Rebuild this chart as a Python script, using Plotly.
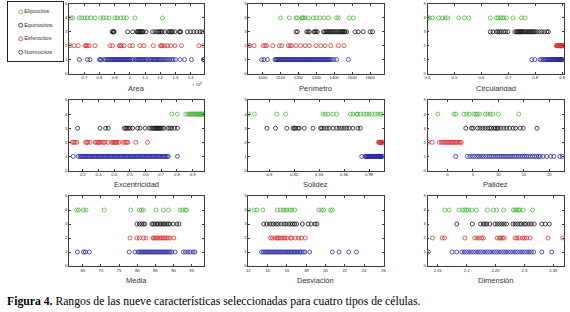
import plotly.graph_objects as go

W, H = 570, 312

types = ["Eliptocitos", "Equinocitos", "Esferocitos", "Normocitos"]
type_levels = [4, 3, 2, 1]
type_colors = ["#55b548", "#1a1a1a", "#d93636", "#2a2aa0"]

features = ["Area", "Perímetro", "Circularidad", "Excentricidad", "Solidez",
            "Palidez", "Media", "Desviación", "Dimensión"]

# ---- Area (x10^4) ----
area_eli = [0.61, 0.623, 0.667, 0.682, 0.704, 0.72, 0.742, 0.77, 0.807, 0.825, 0.843, 0.864,
            0.902, 0.917, 0.939, 0.961, 0.978, 1.033, 1.215]
area_equ = [0.884, 0.888, 0.892, 0.897, 0.985, 1.018, 1.044, 1.05, 1.055, 1.06, 1.066, 1.072,
            1.077, 1.083, 1.088, 1.106, 1.15, 1.165, 1.18, 1.19, 1.198, 1.205, 1.213, 1.23,
            1.253, 1.26, 1.268, 1.275, 1.281, 1.296, 1.326, 1.33, 1.334, 1.378, 1.4, 1.42,
            1.44, 1.46, 1.475]
area_esf = [0.606, 0.632, 0.66, 0.704, 0.712, 0.72, 0.733, 0.77, 0.869, 0.886, 0.93, 0.938,
            0.945, 0.961, 1.0, 1.018, 1.066, 1.092, 1.154, 1.202, 1.208, 1.215, 1.23, 1.248,
            1.268, 1.296, 1.34, 1.454, 1.485]
area_nor = [0.667, 0.72, 0.737, 0.8, 0.806, 0.812, 0.83, 0.84, 0.85, 0.858, 0.865, 0.872, 0.88,
            0.887, 0.894, 0.9, 0.907, 0.914, 0.92, 0.927, 0.934, 0.94, 0.947, 0.954, 0.96,
            0.967, 0.974, 0.98, 0.987, 0.994, 1.0, 1.01, 1.02, 1.035, 1.042, 1.05, 1.057,
            1.064, 1.07, 1.078, 1.085, 1.092, 1.1, 1.108, 1.116, 1.13, 1.138, 1.146, 1.154,
            1.162, 1.17, 1.178, 1.186, 1.194, 1.202, 1.21, 1.22, 1.23, 1.24, 1.25, 1.262,
            1.275, 1.285, 1.3, 1.33, 1.36, 1.405, 1.484, 1.487]
area_ticks = [0.7, 0.8, 0.9, 1.0, 1.1, 1.2, 1.3, 1.4]

# ---- Perímetro ----
per_eli = [1100, 1149, 1186, 1194, 1218, 1222, 1227, 1237, 1255, 1283, 1298, 1320, 1343, 1367,
           1413, 1423, 1484, 1507]
per_equ = [1186, 1194, 1246, 1254, 1261, 1287, 1292, 1298, 1305, 1339, 1347, 1354, 1361, 1367,
           1372, 1378, 1385, 1391, 1398, 1405, 1413, 1420, 1428, 1434, 1441, 1446, 1451, 1456,
           1460, 1469, 1516, 1534, 1562, 1600, 1614]
per_esf = [920, 929, 952, 1004, 1013, 1022, 1056, 1093, 1106, 1143, 1153, 1162, 1186, 1212,
           1237, 1261, 1298, 1324, 1348, 1380, 1423, 1454]
per_nor = [994, 1007, 1026, 1069, 1074, 1079, 1083, 1089, 1095, 1099, 1104, 1111, 1116, 1120,
           1127, 1133, 1138, 1142, 1149, 1155, 1160, 1166, 1171, 1177, 1182, 1188, 1194, 1199,
           1205, 1211, 1216, 1222, 1228, 1233, 1239, 1244, 1250, 1256, 1261, 1267, 1272, 1278,
           1284, 1290, 1295, 1301, 1307, 1312, 1318, 1323, 1329, 1335, 1341, 1346, 1352, 1358,
           1364, 1370, 1376, 1385, 1398, 1413, 1479]
per_ticks = [1000, 1100, 1200, 1300, 1400, 1500, 1600]

# ---- Circularidad ----
cir_eli = [0.401, 0.406, 0.419, 0.441, 0.456, 0.466, 0.475, 0.516, 0.537, 0.553, 0.633, 0.656,
           0.662, 0.671, 0.678, 0.684, 0.693, 0.718, 0.749, 0.762]
cir_equ = [0.633, 0.643, 0.656, 0.662, 0.668, 0.674, 0.683, 0.69, 0.699, 0.724, 0.73, 0.734,
           0.737, 0.74, 0.743, 0.746, 0.749, 0.752, 0.755, 0.76, 0.765, 0.77, 0.774, 0.778,
           0.782, 0.786, 0.79, 0.794, 0.799, 0.805, 0.815, 0.824, 0.833, 0.843, 0.849]
cir_esf = [0.878, 0.88, 0.882, 0.884, 0.885, 0.887, 0.888, 0.89, 0.891, 0.893, 0.894, 0.895,
           0.896, 0.897, 0.898, 0.899, 0.9, 0.901, 0.902, 0.903, 0.904]
cir_nor = [0.787, 0.799, 0.818, 0.824, 0.83, 0.835, 0.84, 0.845, 0.848, 0.852, 0.855, 0.858,
           0.861, 0.864, 0.867, 0.87, 0.873, 0.876, 0.878, 0.88, 0.883, 0.885, 0.887, 0.889,
           0.891, 0.893, 0.895, 0.897, 0.899, 0.9, 0.902, 0.904]
cir_ticks = [0.4, 0.5, 0.6, 0.7, 0.8, 0.9]

# ---- Excentricidad ----
exc_eli = [0.767, 0.803, 0.856, 0.869, 0.877, 0.884, 0.89, 0.894, 0.9, 0.906, 0.915, 0.921,
           0.926, 0.932, 0.937, 0.942, 0.947, 0.952, 0.957, 0.962, 0.966, 0.97]
exc_equ = [0.168, 0.31, 0.346, 0.363, 0.465, 0.474, 0.482, 0.491, 0.501, 0.518, 0.55, 0.565,
           0.597, 0.624, 0.635, 0.646, 0.652, 0.66, 0.666, 0.671, 0.677, 0.682, 0.687, 0.692,
           0.698, 0.707, 0.718, 0.745, 0.756, 0.767, 0.784, 0.803]
exc_esf = [0.134, 0.143, 0.151, 0.162, 0.219, 0.226, 0.232, 0.247, 0.279, 0.288, 0.296, 0.303,
           0.31, 0.325, 0.334, 0.342, 0.363, 0.385, 0.395, 0.401, 0.406, 0.412, 0.417, 0.431,
           0.459, 0.47, 0.479, 0.487, 0.538, 0.612]
exc_nor = [0.14, 0.172, 0.183, 0.191, 0.198, 0.206, 0.214, 0.221, 0.229, 0.236, 0.244, 0.252,
           0.259, 0.267, 0.275, 0.283, 0.29, 0.298, 0.305, 0.313, 0.321, 0.33, 0.338, 0.346,
           0.353, 0.361, 0.369, 0.377, 0.385, 0.392, 0.4, 0.408, 0.416, 0.423, 0.431, 0.439,
           0.447, 0.455, 0.462, 0.47, 0.478, 0.486, 0.494, 0.502, 0.51, 0.517, 0.525, 0.533,
           0.541, 0.549, 0.557, 0.565, 0.573, 0.58, 0.588, 0.596, 0.604, 0.612, 0.62, 0.628,
           0.636, 0.643, 0.651, 0.659, 0.667, 0.675, 0.683, 0.69, 0.698, 0.706, 0.714, 0.722,
           0.73, 0.738, 0.745, 0.803]
exc_ticks = [0.2, 0.3, 0.4, 0.5, 0.6, 0.7, 0.8, 0.9]

# ---- Solidez ----
sol_eli = [0.8835, 0.888, 0.906, 0.913, 0.943, 0.945, 0.947, 0.951, 0.954, 0.965, 0.967, 0.97,
           0.971, 0.973, 0.976, 0.978, 0.98, 0.982, 0.985, 0.987, 0.989, 0.991]
sol_equ = [0.898, 0.905, 0.914, 0.919, 0.92, 0.921, 0.923, 0.924, 0.928, 0.935, 0.941, 0.942,
           0.944, 0.946, 0.948, 0.951, 0.954, 0.956, 0.958, 0.96, 0.962, 0.964, 0.967, 0.971,
           0.973]
sol_esf = [0.9876, 0.988, 0.9884, 0.9888, 0.9892, 0.9896, 0.99, 0.9904, 0.9908, 0.9912, 0.9915]
sol_nor = [0.9741, 0.9768, 0.9776, 0.9781, 0.9787, 0.9792, 0.9797, 0.9802, 0.9807, 0.9813,
           0.9818, 0.9823, 0.9829, 0.9834, 0.9839, 0.9845, 0.985, 0.9856, 0.9861, 0.9866,
           0.9872, 0.9877, 0.9882, 0.9888, 0.9893, 0.9898, 0.9904, 0.9909, 0.9914]
sol_ticks = [0.9, 0.92, 0.94, 0.96, 0.98]

# ---- Palidez ----
pal_eli = [-1.9, 1.25, 1.6, 3.2, 3.8, 4.3, 5.2, 5.6, 5.9, 6.3, 7.4, 7.9, 8.4, 8.9, 10.0, 14.0]
pal_equ = [3.6, 4.7, 5.0, 5.9, 6.4, 6.9, 7.4, 7.9, 8.3, 8.6, 9.1, 9.4, 9.7, 10.0, 10.5, 11.1,
           11.6, 12.2, 12.9, 13.4, 14.3, 14.9, 17.6]
pal_esf = [-3.8, -3.0, -1.6, -1.2, -0.9, -0.6, -0.3, 0.0, 0.2, 0.5, 0.8, 1.0, 1.3, 1.6, 1.9,
           2.2, 2.5, 2.7]
pal_nor = [1.6, 3.9, 4.4, 4.9, 5.3, 5.8, 6.2, 6.6, 7.0, 7.5, 7.9, 8.3, 8.7, 9.1, 9.5, 9.9,
           10.3, 10.7, 11.1, 11.5, 11.9, 12.3, 12.7, 13.1, 13.5, 13.9, 14.3, 14.7, 15.1, 15.5,
           15.9, 16.3, 16.7, 17.1, 17.5, 17.9, 18.2, 18.8, 19.5, 20.3, 20.9, 22.1, 22.6]
pal_ticks = [0, 5, 10, 15, 20]

# ---- Media ----
med_eli = [63.3, 63.8, 65.2, 65.9, 70.9, 78.2, 80.6, 81.2, 81.7, 85.2, 87.2, 88.6, 91.8, 92.5,
           93.2, 93.6]
med_equ = [79.9, 80.6, 81.2, 81.7, 82.1, 84.0, 84.4, 84.9, 85.4, 85.8, 86.3, 86.7, 87.2, 87.6,
           88.1, 88.6, 89.0, 89.9, 90.9, 91.5]
med_esf = [78.0, 79.9, 80.6, 81.7, 82.4, 84.3, 84.6, 85.0, 85.4, 85.8, 86.3, 86.7, 87.2, 87.6,
           88.1, 88.6, 89.0, 90.1]
med_nor = [63.5, 65.2, 65.7, 66.8, 77.8, 79.4, 80.2, 80.6, 81.0, 81.4, 81.8, 82.2, 82.6, 83.0,
           83.4, 83.8, 84.2, 84.6, 85.0, 85.4, 85.8, 86.2, 86.6, 87.0, 87.4, 87.8, 88.2, 88.6,
           89.0, 89.5, 90.4, 92.7, 93.3, 94.0, 94.6, 95.4, 95.9]
med_ticks = [65, 70, 75, 80, 85, 90, 95]

# ---- Desviación ----
des_eli = [12.05, 12.6, 12.9, 13.5, 15.0, 15.3, 15.6, 15.8, 16.0, 16.3, 16.5, 16.8, 19.3, 19.6,
           19.8, 20.5, 20.7]
des_equ = [13.6, 13.9, 14.2, 14.4, 14.6, 14.9, 15.1, 15.4, 15.7, 15.9, 16.2, 16.4, 16.6, 16.8,
           17.0, 17.6, 18.2, 18.5, 18.9, 19.1]
des_esf = [14.3, 14.5, 14.8, 15.0, 15.1, 15.3, 15.5, 15.7, 15.8, 16.0, 16.4, 16.5, 16.9, 17.2,
           17.5, 17.9]
des_nor = [13.38, 13.55, 13.72, 13.88, 14.03, 14.19, 14.35, 14.5, 14.66, 14.82, 14.97, 15.13,
           15.29, 15.44, 15.6, 15.76, 15.91, 16.07, 16.23, 16.38, 16.54, 16.7, 16.85, 17.01,
           17.17, 17.32, 17.48, 17.68, 17.85, 18.36, 20.7, 21.4, 22.4, 23.2]
des_ticks = [12, 14, 16, 18, 20, 22, 24, 26]

# ---- Dimensión ----
dim_eli = [2.1625, 2.17, 2.187, 2.193, 2.197, 2.2, 2.203, 2.209, 2.217, 2.236, 2.246, 2.252,
           2.264, 2.281, 2.284, 2.287, 2.29, 2.292, 2.298, 2.314]
dim_equ = [2.183, 2.21, 2.224, 2.229, 2.232, 2.235, 2.24, 2.249, 2.253, 2.257, 2.261, 2.265,
           2.269, 2.28, 2.284, 2.288, 2.292, 2.295, 2.3, 2.303, 2.308, 2.312, 2.317, 2.33,
           2.336, 2.343]
dim_esf = [2.141, 2.158, 2.162, 2.197, 2.214, 2.218, 2.222, 2.226, 2.229, 2.253, 2.257, 2.259,
           2.262, 2.265, 2.284, 2.287, 2.291, 2.297, 2.3, 2.304, 2.31, 2.341, 2.366]
dim_nor = [2.134, 2.175, 2.183, 2.192, 2.196, 2.2, 2.204, 2.208, 2.212, 2.216, 2.22, 2.224,
           2.228, 2.232, 2.236, 2.24, 2.244, 2.248, 2.252, 2.256, 2.26, 2.264, 2.268, 2.272,
           2.276, 2.28, 2.284, 2.288, 2.292, 2.296, 2.3, 2.304, 2.308, 2.312, 2.316, 2.33, 2.347]
dim_ticks = [2.15, 2.2, 2.25, 2.3, 2.35]

y_ticks = [0, 1, 2, 3, 4, 5]

feature_data = [
    (area_eli, area_equ, area_esf, area_nor),
    (per_eli, per_equ, per_esf, per_nor),
    (cir_eli, cir_equ, cir_esf, cir_nor),
    (exc_eli, exc_equ, exc_esf, exc_nor),
    (sol_eli, sol_equ, sol_esf, sol_nor),
    (pal_eli, pal_equ, pal_esf, pal_nor),
    (med_eli, med_equ, med_esf, med_nor),
    (des_eli, des_equ, des_esf, des_nor),
    (dim_eli, dim_equ, dim_esf, dim_nor),
]
feature_ticks = [area_ticks, per_ticks, cir_ticks, exc_ticks, sol_ticks, pal_ticks,
                 med_ticks, des_ticks, dim_ticks]

# ---- layout geometry (pixels) ----
x_ranges = [[0.599, 1.488], [919.6, 1675], [0.4, 0.905],
            [0.113, 0.972], [0.8831, 0.9916], [-3.93, 22.8],
            [61.2, 98.4], [12, 26], [2.1325, 2.3675]]
col_px = [(69, 204), (248.3, 383.5), (427.5, 563.5)]
row_px = [(4, 73.5), (100, 170.5), (196, 266)]
title_y_px = [88, 184, 280]

fig = go.Figure()
layout = {}
annotations = []
axis_color = "#3a3a3a"
for i in range(9):
    r, c = divmod(i, 3)
    n = "" if i == 0 else str(i + 1)
    for k in range(4):
        fig.add_trace(go.Scatter(
            x=feature_data[i][k], y=[type_levels[k]] * len(feature_data[i][k]),
            mode="markers", xaxis="x" + n, yaxis="y" + n, showlegend=False,
            marker=dict(symbol="circle-open", size=4, color=type_colors[k],
                        line=dict(width=0.8)),
            hoverinfo="x+name", name=types[k]))
    x0, x1 = col_px[c]
    ytop, ybot = row_px[r]
    common = dict(showline=True, mirror="ticks", linecolor=axis_color, linewidth=0.8,
                  ticks="inside", ticklen=2, tickwidth=0.6, tickcolor=axis_color,
                  showgrid=False, zeroline=False,
                  tickfont=dict(family="Liberation Sans, Arial", size=4.2, color="#222"))
    layout["xaxis" + n] = dict(domain=[x0 / W, x1 / W], anchor="y" + n,
                               range=x_ranges[i], tickmode="array",
                               tickvals=feature_ticks[i], **common)
    layout["yaxis" + n] = dict(domain=[1 - ybot / H, 1 - ytop / H], anchor="x" + n,
                               range=[0, 5], tickmode="array", tickvals=y_ticks, **common)
    annotations.append(dict(text=features[i], xref="paper", yref="paper",
                            x=(x0 + x1) / 2 / W, y=1 - title_y_px[r] / H,
                            xanchor="center", yanchor="middle", showarrow=False,
                            font=dict(family="Liberation Sans, Arial", size=7.5, color="#333")))

# x10^4 multiplier under the Area axis
annotations.append(dict(text="× 10<sup>4</sup>", xref="paper", yref="paper",
                        x=197 / W, y=1 - 84 / H, xanchor="center", yanchor="middle",
                        showarrow=False,
                        font=dict(family="Liberation Sans, Arial", size=4.2, color="#222")))

# caption
annotations.append(dict(
    text="<b>Figura 4.</b> Rangos de las nueve características seleccionadas para cuatro tipos de células.",
    xref="paper", yref="paper", x=5 / W, y=1 - 301 / H, xanchor="left", yanchor="middle",
    showarrow=False, font=dict(family="Liberation Serif, Times New Roman", size=11.7, color="#000")))

# legend box drawn as a small auxiliary axis
legend_slots = [0, 1, 2, 3]
fig.add_trace(go.Scatter(
    x=[0] * 4, y=legend_slots, mode="markers+text", text=types,
    textposition="middle right", xaxis="x10", yaxis="y10", showlegend=False,
    hoverinfo="skip",
    marker=dict(symbol="circle-open", size=4, color=type_colors, line=dict(width=0.8)),
    textfont=dict(family="Liberation Sans, Arial", size=5.5, color="#333")))
layout["xaxis10"] = dict(domain=[8 / W, 63 / W], anchor="y10", range=[-12.7, 42.3],
                         showline=True, mirror=True, linecolor="#222", linewidth=1,
                         showticklabels=False, ticks="", showgrid=False, zeroline=False,
                         fixedrange=True)
layout["yaxis10"] = dict(domain=[1 - 61 / H, 1 - 2 / H], anchor="x10", range=[3.64, -0.72],
                         showline=True, mirror=True, linecolor="#222", linewidth=1,
                         showticklabels=False, ticks="", showgrid=False, zeroline=False,
                         fixedrange=True)

fig.update_layout(width=W, height=H, margin=dict(l=0, r=0, t=0, b=0, autoexpand=False),
                  paper_bgcolor="white", plot_bgcolor="white",
                  annotations=annotations, **layout)
fig.write_html("out.html", config={"displayModeBar": False},
               post_script="document.body.style.margin='0';document.body.style.padding='0';"
                           "document.body.style.overflow='hidden';")
